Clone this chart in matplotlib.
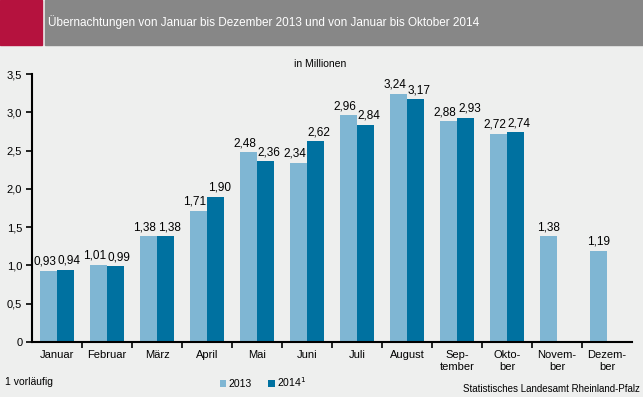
import numpy as np
import matplotlib.pyplot as plt
from matplotlib.patches import Rectangle

plt.rcParams['font.family'] = ['Liberation Sans', 'DejaVu Sans']

months = ['Januar', 'Februar', 'März', 'April', 'Mai', 'Juni', 'Juli', 'August',
          'Sep-\ntember', 'Okto-\nber', 'Novem-\nber', 'Dezem-\nber']
v2013 = [0.93, 1.01, 1.38, 1.71, 2.48, 2.34, 2.96, 3.24, 2.88, 2.72, 1.38, 1.19]
v2014 = [0.94, 0.99, 1.38, 1.90, 2.36, 2.62, 2.84, 3.17, 2.93, 2.74]

bg = '#eeefee'
c13 = '#7fb6d3'
c14 = '#0071a0'

W, H = 643, 397
fig = plt.figure(figsize=(W / 100, H / 100), dpi=100, facecolor=bg)

# Titelleiste
fig.patches.append(Rectangle((0, 1 - 45 / H), 42 / W, 45 / H, transform=fig.transFigure,
                             color='#b5123e', zorder=0))
fig.patches.append(Rectangle((45 / W, 1 - 45 / H), 1, 45 / H, transform=fig.transFigure,
                             color='#878787', zorder=0))
fig.text(48 / W, 1 - 22 / H, 'Übernachtungen von Januar bis Dezember 2013 und von Januar bis Oktober 2014',
         color='white', fontsize=8.5, va='center', ha='left')

ax = fig.add_axes([32 / W, 1 - 342 / H, 600 / W, 268 / H], facecolor=bg)
x = np.arange(len(months))
bw = 1 / 3
ax.bar(x - bw / 2, v2013, bw, color=c13, label='2013')
ax.bar(x[:len(v2014)] + bw / 2, v2014, bw, color=c14, label='2014$^1$')

for i, v in enumerate(v2013):
    dx = -0.08 if i < len(v2014) else 0
    ax.text(i - bw / 2 + dx, v + 0.04, f'{v:.2f}'.replace('.', ','), ha='center', va='bottom', fontsize=8.5)
for i, v in enumerate(v2014):
    ax.text(i + bw / 2 + 0.08, v + 0.04, f'{v:.2f}'.replace('.', ','), ha='center', va='bottom', fontsize=8.5)

ax.set_xlim(-0.5, len(months) - 0.5)
ax.set_ylim(0, 3.5)
ax.set_yticks(np.arange(0, 3.51, 0.5))
ax.set_yticklabels(['0'] + [f'{t:.1f}'.replace('.', ',') for t in np.arange(0.5, 3.51, 0.5)], fontsize=8)
ax.set_xticks(x)
ax.set_xticklabels(months, fontsize=8, va='top')
ax.set_xticks(np.arange(0.5, len(months) - 0.5, 1), minor=True)
ax.tick_params(axis='x', which='major', length=0, pad=6)
ax.tick_params(axis='x', which='minor', length=4, width=1.2, direction='out')
ax.tick_params(axis='y', length=4, width=1.2, direction='out', pad=3)
for s in ['top', 'right']:
    ax.spines[s].set_visible(False)
ax.spines['left'].set_linewidth(1.5)
ax.spines['bottom'].set_linewidth(1.5)

fig.text(320 / W, 1 - 64 / H, 'in Millionen', fontsize=7.5, ha='center', va='center')

ax.legend(loc='center', bbox_to_anchor=(263 / W, 1 - 382 / H), bbox_transform=fig.transFigure,
          ncol=2, frameon=False, fontsize=7.5, handlelength=0.6, handleheight=0.6,
          handletextpad=0.2, columnspacing=1.6)

fig.text(5 / W, 1 - 382 / H, '1 vorläufig', fontsize=7.5, ha='left', va='center')
fig.text(640 / W, 1 - 389 / H, 'Statistisches Landesamt Rheinland-Pfalz', fontsize=7,
         ha='right', va='center')

fig.savefig('out.png', dpi=100, facecolor=bg)
